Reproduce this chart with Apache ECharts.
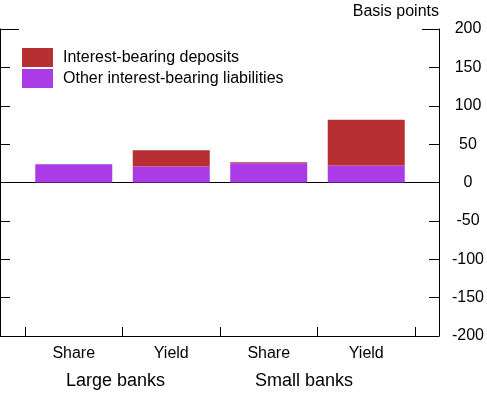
<!DOCTYPE html>
<html><head><meta charset="utf-8">
<script src="https://cdn.jsdelivr.net/npm/echarts@6/dist/echarts.min.js"></script>
<style>html,body{margin:0;padding:0;background:#fff}#c{width:487px;height:394px}</style>
</head><body><div id="c"></div>
<script>
const categories = ['Share', 'Yield', 'Share', 'Yield'];
const groups = ['Large banks', 'Small banks'];
const deposits = [0, 21.3, 1.3, 59.6];
const otherLiab = [23.9, 20.8, 25.2, 22.1];
const yTicks = [-200, -150, -100, -50, 0, 50, 100, 150, 200];
const seriesNames = ['Interest-bearing deposits', 'Other interest-bearing liabilities'];

const FONT = 'Arial, "Liberation Sans", sans-serif';
const RED = '#B82F33';
const PURPLE = '#AA3BE6';
const yMin = yTicks[0], yMax = yTicks[yTicks.length - 1], yInt = yTicks[1] - yTicks[0];

const chart = echarts.init(document.getElementById('c'));
chart.setOption({
  animation: false,
  textStyle: { fontFamily: FONT },
  grid: [
    { left: 0, right: 47, top: 29, bottom: 58 },
    { left: 25, right: 72, top: 29, bottom: 58 }
  ],
  legend: {
    orient: 'vertical', left: 22, top: 48, itemWidth: 31, itemHeight: 19, itemGap: 2, padding: 0,
    data: seriesNames,
    textStyle: { fontSize: 16, color: '#000', fontFamily: FONT, padding: [1, 0, 0, 5] },
    icon: 'rect'
  },
  xAxis: [
    { gridIndex: 0, type: 'value', min: 0, max: 1, axisLine: { show: true, onZero: true, lineStyle: { color: '#000', width: 1 } },
      axisTick: { show: false }, axisLabel: { show: false }, splitLine: { show: false } },
    { gridIndex: 0, type: 'value', min: 0, max: 1, position: 'bottom', axisLine: { show: true, onZero: false, lineStyle: { color: '#000', width: 1 } },
      axisTick: { show: false }, axisLabel: { show: false }, splitLine: { show: false } },
    { gridIndex: 1, type: 'category', data: categories, position: 'bottom', boundaryGap: true,
      axisLine: { show: false, onZero: false }, axisTick: { show: true, inside: true, length: 9, lineStyle: { color: '#000' } },
      axisLabel: { color: '#000', fontSize: 16, margin: 10, fontFamily: FONT }, splitLine: { show: false } }
  ],
  yAxis: [
    { gridIndex: 0, type: 'value', min: yMin, max: yMax, interval: yInt, position: 'left',
      axisLine: { show: true, onZero: false, lineStyle: { color: '#000' } }, axisTick: { show: true, inside: true, length: 10, lineStyle: { color: '#000' } },
      axisLabel: { show: false }, splitLine: { show: false } },
    { gridIndex: 0, type: 'value', min: yMin, max: yMax, interval: yInt, position: 'right',
      axisLine: { show: true, onZero: false, lineStyle: { color: '#000' } }, axisTick: { show: true, inside: true, length: 10, lineStyle: { color: '#000' } },
      axisLabel: { color: '#000', fontSize: 16, margin: 29, fontFamily: FONT, align: 'center' }, splitLine: { show: false } },
    { gridIndex: 1, type: 'value', min: yMin, max: yMax, interval: yInt, show: false, splitLine: { show: false } }
  ],
  graphic: [
    { type: 'text', right: 48, top: 4, style: { text: 'Basis points', fontSize: 16, fill: '#000', fontFamily: FONT } },
    { type: 'line', shape: { x1: 0, y1: 29.5, x2: 19, y2: 29.5 }, style: { stroke: '#000', lineWidth: 1 } },
    { type: 'line', shape: { x1: 422, y1: 29.5, x2: 440, y2: 29.5 }, style: { stroke: '#000', lineWidth: 1 } },
    { type: 'text', x: 115.5, y: 381, style: { text: groups[0], fontSize: 18, fill: '#000', fontFamily: FONT, align: 'center', verticalAlign: 'middle' } },
    { type: 'text', x: 304, y: 381, style: { text: groups[1], fontSize: 18, fill: '#000', fontFamily: FONT, align: 'center', verticalAlign: 'middle' } }
  ],
  series: [
    { name: seriesNames[1], type: 'bar', xAxisIndex: 2, yAxisIndex: 2, stack: 'a', data: otherLiab, barWidth: 77,
      itemStyle: { color: PURPLE } },
    { name: seriesNames[0], type: 'bar', xAxisIndex: 2, yAxisIndex: 2, stack: 'a', data: deposits, barWidth: 77,
      itemStyle: { color: RED } }
  ]
});
</script></body></html>
